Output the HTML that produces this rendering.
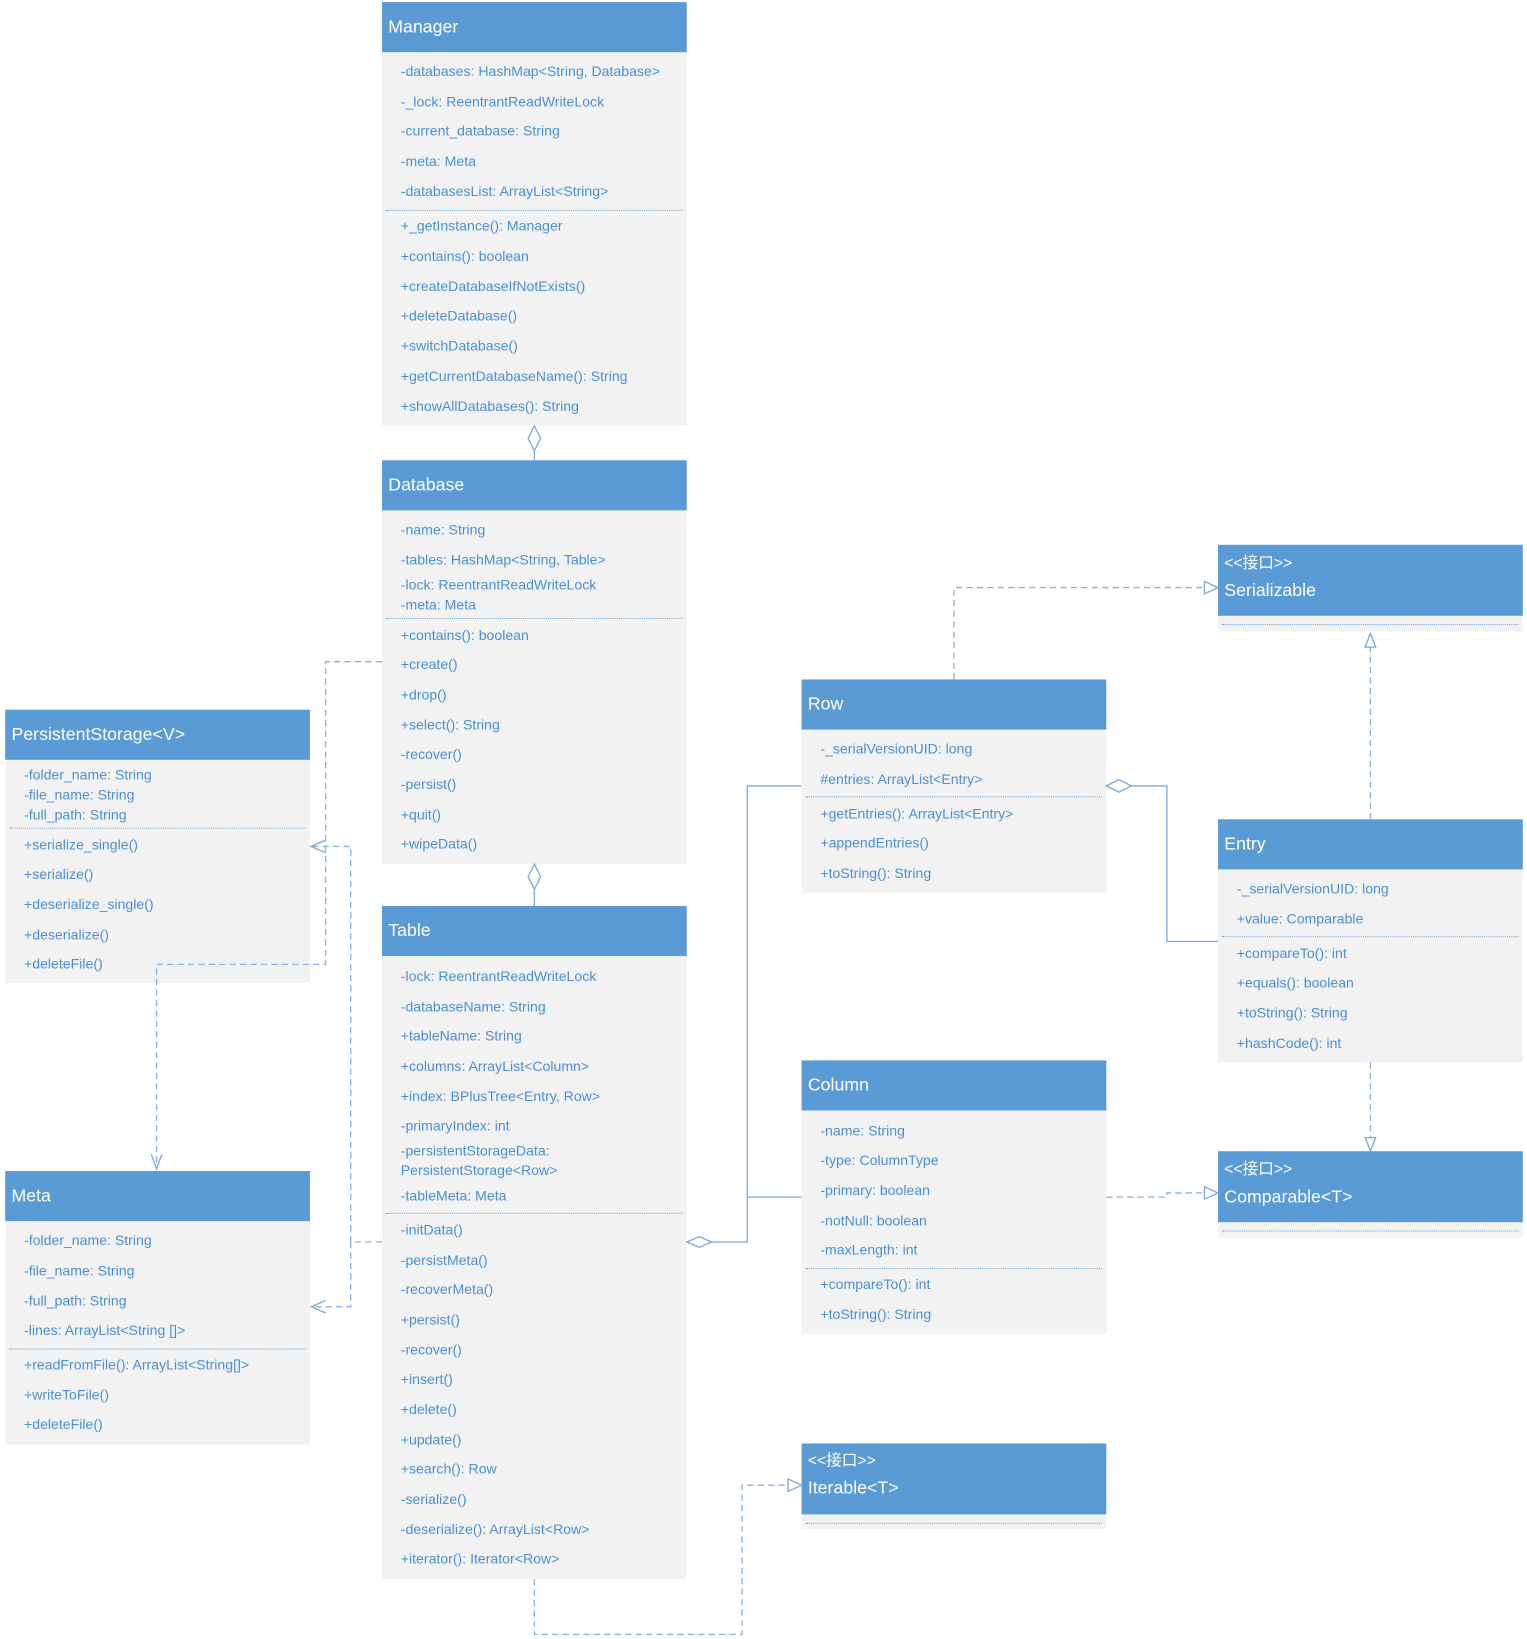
<!DOCTYPE html>
<html><head><meta charset="utf-8">
<style>
html,body{margin:0;padding:0;background:#fff;}
body{width:1527px;height:1639px;overflow:hidden;position:relative;}
#w{position:absolute;left:0;top:0;width:1463px;height:1570px;transform:scale(1.0437);transform-origin:0 0;font-family:"Liberation Sans","Noto Sans CJK SC",sans-serif;}
.b{position:absolute;background:#f2f2f2;}
.h{position:absolute;left:0;right:0;top:0;background:#5b9bd5;color:#fff;font-size:17px;}
.h span{position:absolute;left:6px;white-space:nowrap;}
.t{position:absolute;left:18px;color:#4a8fd4;font-size:13.5px;white-space:nowrap;line-height:18px;}
.s{position:absolute;left:4px;right:4px;border-top:1px dotted #6fa3d8;}
svg{position:absolute;left:0;top:0;z-index:5;}
</style></head><body><div id="w">

<!-- Manager -->
<div class="b" style="left:366px;top:2px;width:292px;height:406px">
<div class="h" style="height:48px"><span style="top:14px">Manager</span></div>
<div class="t" style="top:58px">-databases: HashMap&lt;String, Database&gt;</div>
<div class="t" style="top:87px">-_lock: ReentrantReadWriteLock</div>
<div class="t" style="top:115px">-current_database: String</div>
<div class="t" style="top:144px">-meta: Meta</div>
<div class="t" style="top:173px">-databasesList: ArrayList&lt;String&gt;</div>
<div class="s" style="top:199px"></div>
<div class="t" style="top:206px">+_getInstance(): Manager</div>
<div class="t" style="top:235px">+contains(): boolean</div>
<div class="t" style="top:264px">+createDatabaseIfNotExists()</div>
<div class="t" style="top:292px">+deleteDatabase()</div>
<div class="t" style="top:321px">+switchDatabase()</div>
<div class="t" style="top:350px">+getCurrentDatabaseName(): String</div>
<div class="t" style="top:379px">+showAllDatabases(): String</div>
</div>

<!-- Database -->
<div class="b" style="left:366px;top:441px;width:292px;height:387px">
<div class="h" style="height:48px"><span style="top:14px">Database</span></div>
<div class="t" style="top:58px">-name: String</div>
<div class="t" style="top:87px">-tables: HashMap&lt;String, Table&gt;</div>
<div class="t" style="top:111px">-lock: ReentrantReadWriteLock</div>
<div class="t" style="top:130px">-meta: Meta</div>
<div class="s" style="top:151px"></div>
<div class="t" style="top:159px">+contains(): boolean</div>
<div class="t" style="top:187px">+create()</div>
<div class="t" style="top:216px">+drop()</div>
<div class="t" style="top:245px">+select(): String</div>
<div class="t" style="top:273px">-recover()</div>
<div class="t" style="top:302px">-persist()</div>
<div class="t" style="top:331px">+quit()</div>
<div class="t" style="top:359px">+wipeData()</div>
</div>

<!-- Table -->
<div class="b" style="left:366px;top:868px;width:292px;height:645px">
<div class="h" style="height:48px"><span style="top:14px">Table</span></div>
<div class="t" style="top:59px">-lock: ReentrantReadWriteLock</div>
<div class="t" style="top:88px">-databaseName: String</div>
<div class="t" style="top:116px">+tableName: String</div>
<div class="t" style="top:145px">+columns: ArrayList&lt;Column&gt;</div>
<div class="t" style="top:174px">+index: BPlusTree&lt;Entry, Row&gt;</div>
<div class="t" style="top:202px">-primaryIndex: int</div>
<div class="t" style="top:226px">-persistentStorageData:</div>
<div class="t" style="top:245px">PersistentStorage&lt;Row&gt;</div>
<div class="t" style="top:269px">-tableMeta: Meta</div>
<div class="s" style="top:294px"></div>
<div class="t" style="top:302px">-initData()</div>
<div class="t" style="top:331px">-persistMeta()</div>
<div class="t" style="top:359px">-recoverMeta()</div>
<div class="t" style="top:388px">+persist()</div>
<div class="t" style="top:417px">-recover()</div>
<div class="t" style="top:445px">+insert()</div>
<div class="t" style="top:474px">+delete()</div>
<div class="t" style="top:503px">+update()</div>
<div class="t" style="top:531px">+search(): Row</div>
<div class="t" style="top:560px">-serialize()</div>
<div class="t" style="top:589px">-deserialize(): ArrayList&lt;Row&gt;</div>
<div class="t" style="top:617px">+iterator(): Iterator&lt;Row&gt;</div>
</div>

<!-- PersistentStorage -->
<div class="b" style="left:5px;top:680px;width:292px;height:262px">
<div class="h" style="height:48px"><span style="top:14px">PersistentStorage&lt;V&gt;</span></div>
<div class="t" style="top:54px">-folder_name: String</div>
<div class="t" style="top:73px">-file_name: String</div>
<div class="t" style="top:92px">-full_path: String</div>
<div class="s" style="top:113px"></div>
<div class="t" style="top:121px">+serialize_single()</div>
<div class="t" style="top:149px">+serialize()</div>
<div class="t" style="top:178px">+deserialize_single()</div>
<div class="t" style="top:207px">+deserialize()</div>
<div class="t" style="top:235px">+deleteFile()</div>
</div>

<!-- Meta -->
<div class="b" style="left:5px;top:1122px;width:292px;height:262px">
<div class="h" style="height:48px"><span style="top:14px">Meta</span></div>
<div class="t" style="top:58px">-folder_name: String</div>
<div class="t" style="top:87px">-file_name: String</div>
<div class="t" style="top:116px">-full_path: String</div>
<div class="t" style="top:144px">-lines: ArrayList&lt;String []&gt;</div>
<div class="s" style="top:170px"></div>
<div class="t" style="top:177px">+readFromFile(): ArrayList&lt;String[]&gt;</div>
<div class="t" style="top:206px">+writeToFile()</div>
<div class="t" style="top:234px">+deleteFile()</div>
</div>

<!-- Serializable -->
<div class="b" style="left:1167px;top:522px;width:292px;height:83px">
<div class="h" style="height:68px"><span style="top:6px;font-size:15px">&lt;&lt;接口&gt;&gt;</span><span style="top:34px">Serializable</span></div>
<div class="s" style="top:76px"></div>
</div>

<!-- Row -->
<div class="b" style="left:768px;top:651px;width:292px;height:205px">
<div class="h" style="height:48px"><span style="top:14px">Row</span></div>
<div class="t" style="top:58px">-_serialVersionUID: long</div>
<div class="t" style="top:87px">#entries: ArrayList&lt;Entry&gt;</div>
<div class="s" style="top:112px"></div>
<div class="t" style="top:120px">+getEntries(): ArrayList&lt;Entry&gt;</div>
<div class="t" style="top:148px">+appendEntries()</div>
<div class="t" style="top:177px">+toString(): String</div>
</div>

<!-- Entry -->
<div class="b" style="left:1167px;top:785px;width:292px;height:233px">
<div class="h" style="height:48px"><span style="top:14px">Entry</span></div>
<div class="t" style="top:58px">-_serialVersionUID: long</div>
<div class="t" style="top:87px">+value: Comparable</div>
<div class="s" style="top:112px"></div>
<div class="t" style="top:120px">+compareTo(): int</div>
<div class="t" style="top:148px">+equals(): boolean</div>
<div class="t" style="top:177px">+toString(): String</div>
<div class="t" style="top:206px">+hashCode(): int</div>
</div>

<!-- Column -->
<div class="b" style="left:768px;top:1016px;width:292px;height:262px">
<div class="h" style="height:48px"><span style="top:14px">Column</span></div>
<div class="t" style="top:59px">-name: String</div>
<div class="t" style="top:87px">-type: ColumnType</div>
<div class="t" style="top:116px">-primary: boolean</div>
<div class="t" style="top:145px">-notNull: boolean</div>
<div class="t" style="top:173px">-maxLength: int</div>
<div class="s" style="top:199px"></div>
<div class="t" style="top:206px">+compareTo(): int</div>
<div class="t" style="top:235px">+toString(): String</div>
</div>

<!-- Comparable -->
<div class="b" style="left:1167px;top:1103px;width:292px;height:83px">
<div class="h" style="height:68px"><span style="top:6px;font-size:15px">&lt;&lt;接口&gt;&gt;</span><span style="top:34px">Comparable&lt;T&gt;</span></div>
<div class="s" style="top:76px"></div>
</div>

<!-- Iterable -->
<div class="b" style="left:768px;top:1383px;width:292px;height:82px">
<div class="h" style="height:68px"><span style="top:5px;font-size:15px">&lt;&lt;接口&gt;&gt;</span><span style="top:33px">Iterable&lt;T&gt;</span></div>
<div class="s" style="top:76px"></div>
</div>

<svg width="1463" height="1570" viewBox="0 0 1463 1570">
<g fill="none" stroke="#7eaad8" stroke-width="1.3">
<path d="M512 432 V441"/>
<path d="M512 852 V868"/>
<path d="M681 1190 H716 V753 H768"/>
<path d="M716 1147 H768"/>
<path d="M1083 753 H1118 V902 H1167"/>
<path d="M512 408 l-6 12 l6 12 l6 -12 z" fill="#fff"/>
<path d="M512 828 l-6 12 l6 12 l6 -12 z" fill="#fff"/>
<path d="M658 1190 l12 -5 l12 5 l-12 5 z" fill="#fff"/>
<path d="M1060 753 l12 -6 l12 6 l-12 6 z" fill="#fff"/>
</g>
<g fill="none" stroke="#8ab2dc" stroke-width="1.3" stroke-dasharray="6,4">
<path d="M914 651 V563 H1155"/>
<path d="M1313 785 V620"/>
<path d="M1313 1018 V1090"/>
<path d="M1060 1147 H1118 V1143 H1155"/>
<path d="M512 1513 V1566 H711 V1423 H755"/>
<path d="M366 634 H312 V924 H150 V1118"/>
<path d="M366 1190 H336 V811 H299"/>
<path d="M336 1190 V1252 H299"/>
</g>
<g fill="#fff" stroke="#7eaad8" stroke-width="1.3">
<path d="M1167 563 l-13 -6 v12 z"/>
<path d="M1313 607 l-5 13 h10 z"/>
<path d="M1313 1103 l-5 -13 h10 z"/>
<path d="M1167 1143 l-13 -6 v12 z"/>
<path d="M768 1423 l-13 -6 v12 z"/>
</g>
<g fill="none" stroke="#7eaad8" stroke-width="1.3">
<path d="M312 805 l-14 6 l14 6"/>
<path d="M312 1246 l-14 6 l14 6"/>
<path d="M145 1106 l5 14 l5 -14"/>
</g>
</svg>

</div></body></html>
